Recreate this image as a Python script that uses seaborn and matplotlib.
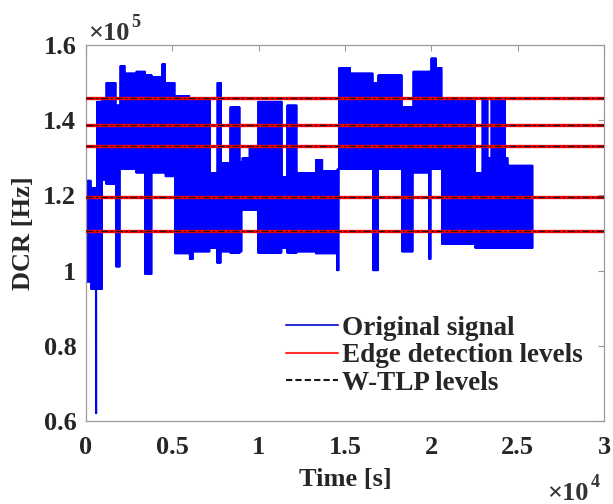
import numpy as np
import pandas as pd
import matplotlib
matplotlib.use("Agg")
import matplotlib.pyplot as plt
from matplotlib.lines import Line2D
from matplotlib.ticker import FuncFormatter
import seaborn as sns

# Envelope of the DCR trace: time span [s] and min / max count rate [x1e5 Hz]
seg_start = [50, 300, 560, 610, 930, 1160, 1740, 1970, 2250, 2900, 3420, 3820,
             4400, 4600, 5150, 6000, 6200, 7180, 7590, 7820, 8340, 8920, 9040,
             9450, 9960, 11350, 11640, 12220, 13300, 13700, 14540, 14650, 15300,
             16620, 16910, 18300, 18940, 19870, 19980, 20300, 20620, 22530,
             22940, 23280, 23460, 24270, 24440]
seg_end = [300, 560, 610, 930, 1160, 1740, 1970, 2250, 2900, 3420, 3820, 4400,
           4600, 5150, 6000, 6200, 7180, 7590, 7820, 8340, 8920, 9040, 9450,
           9960, 11350, 11640, 12220, 13300, 13700, 14540, 14650, 15300, 16620,
           16910, 18300, 18940, 19870, 19980, 20300, 20620, 22530, 22940,
           23280, 23460, 24270, 24440, 25890]
seg_low = [0.97, 0.95, 0.62, 0.95, 1.24, 1.23, 1.01, 1.27, 1.27, 1.26, 0.99, 1.26,
           1.26, 1.25, 1.045, 1.03, 1.05, 1.06, 1.02, 1.05, 1.047, 1.05, 1.16,
           1.16, 1.047, 1.06, 1.047, 1.05, 1.045, 1.045, 1.00, 1.27, 1.27,
           1.00, 1.27, 1.05, 1.26, 1.03, 1.27, 1.27, 1.07, 1.06,
           1.06, 1.06, 1.06, 1.06, 1.06]
seg_high = [1.24, 1.22, 1.22, 1.45, 1.46, 1.50, 1.44, 1.545, 1.525, 1.53, 1.52, 1.515,
            1.55, 1.50, 1.465, 1.46, 1.455, 1.26, 1.50, 1.286, 1.435, 1.29, 1.30,
            1.33, 1.45, 1.25, 1.44, 1.26, 1.295, 1.265, 1.27, 1.54, 1.525,
            1.50, 1.52, 1.435, 1.53, 1.53, 1.565, 1.54, 1.46, 1.26,
            1.46, 1.30, 1.46, 1.30, 1.28]

# Detected trap levels [x1e5 Hz]
edge_levels = [1.459, 1.387, 1.331, 1.196, 1.105]
wtlp_levels = [1.459, 1.387, 1.331, 1.196, 1.105]

legend_labels = ["Original signal", "Edge detection levels", "W-TLP levels"]
x_ticks = [0, 0.5, 1, 1.5, 2, 2.5, 3]          # x1e4 s
y_ticks = [0.6, 0.8, 1.0, 1.2, 1.4, 1.6]        # x1e5 Hz

# Trace the switching signal: alternate between the bounds inside each span
step = 12.0
t_all, v_all = [], []
for s, e, lo, hi in zip(seg_start, seg_end, seg_low, seg_high):
    t = np.arange(s, e, step)
    v = np.where(np.arange(len(t)) % 2 == 0, lo, hi)
    t_all.append(t)
    v_all.append(v)
df = pd.DataFrame({"t": np.concatenate(t_all),
                   "dcr": np.concatenate(v_all) * 1e5})

sns.set_theme(style="white")
plt.rcParams["font.family"] = ["Liberation Serif", "DejaVu Serif"]
plt.rcParams["font.weight"] = "bold"

FS = 19
fig = plt.figure(figsize=(6.13, 5.04), dpi=100)
ax = fig.add_axes([86 / 613, 1 - 421 / 504, 518 / 613, 376 / 504])

sns.lineplot(data=df, x="t", y="dcr", color="#0000ff", lw=0.9,
             estimator=None, sort=False, ax=ax, legend=False, zorder=2)

for lvl in edge_levels:
    ax.axhline(lvl * 1e5, color="#ff0000", lw=2.4, zorder=3)
for lvl in wtlp_levels:
    ax.axhline(lvl * 1e5, color="#1a1a1a", lw=1.0, ls=(0, (5, 2, 1.5, 2)), zorder=4)

ax.set_xlim(0, 3e4)
ax.set_ylim(0.6e5, 1.6e5)
ax.set_xticks([v * 1e4 for v in x_ticks])
ax.set_yticks([v * 1e5 for v in y_ticks])
ax.xaxis.set_major_formatter(FuncFormatter(lambda v, p: f"{v / 1e4:g}"))
ax.yaxis.set_major_formatter(FuncFormatter(lambda v, p: f"{v / 1e5:g}"))
ax.tick_params(axis="both", direction="in", length=4, width=0.8, color="#9a9a9a",
               top=True, right=True, labelsize=FS)
ax.tick_params(axis="x", pad=11)
ax.tick_params(axis="y", pad=7)
for lab in ax.get_xticklabels() + ax.get_yticklabels():
    lab.set_fontweight("bold")
for sp in ax.spines.values():
    sp.set_color("#9a9a9a")
    sp.set_linewidth(0.9)

ax.set_xlabel("Time [s]", fontsize=FS, fontweight="bold", labelpad=6)
ax.set_ylabel("DCR [Hz]", fontsize=FS, fontweight="bold", labelpad=6)

# Exponent markers for both axes
fig.text(88 / 613, 1 - 40 / 504, "\u00d710", fontsize=FS, fontweight="bold",
         color="#333333", ha="left", va="baseline")
fig.text(131 / 613, 1 - 27 / 504, "5", fontsize=13, fontweight="bold",
         color="#333333", ha="left", va="baseline")
fig.text(547 / 613, 1 - 500 / 504, "\u00d710", fontsize=FS, fontweight="bold",
         color="#333333", ha="left", va="baseline")
fig.text(591 / 613, 1 - 487 / 504, "4", fontsize=13, fontweight="bold",
         color="#333333", ha="left", va="baseline")

LFS = 19.5
handles = [Line2D([], [], color="#3030d0", lw=1.5),
           Line2D([], [], color="#ff3030", lw=1.5),
           Line2D([], [], color="#1a1a1a", lw=1.5, ls=(0, (3, 1.5)))]
ax.legend(handles, legend_labels, loc="upper left",
          bbox_to_anchor=(272 / 613, 1 - 302 / 504), bbox_transform=fig.transFigure,
          frameon=False, prop={"weight": "bold", "size": LFS},
          handlelength=1.95, handletextpad=0.15, labelspacing=0.1, borderpad=0)

fig.savefig("out.png", dpi=100)
